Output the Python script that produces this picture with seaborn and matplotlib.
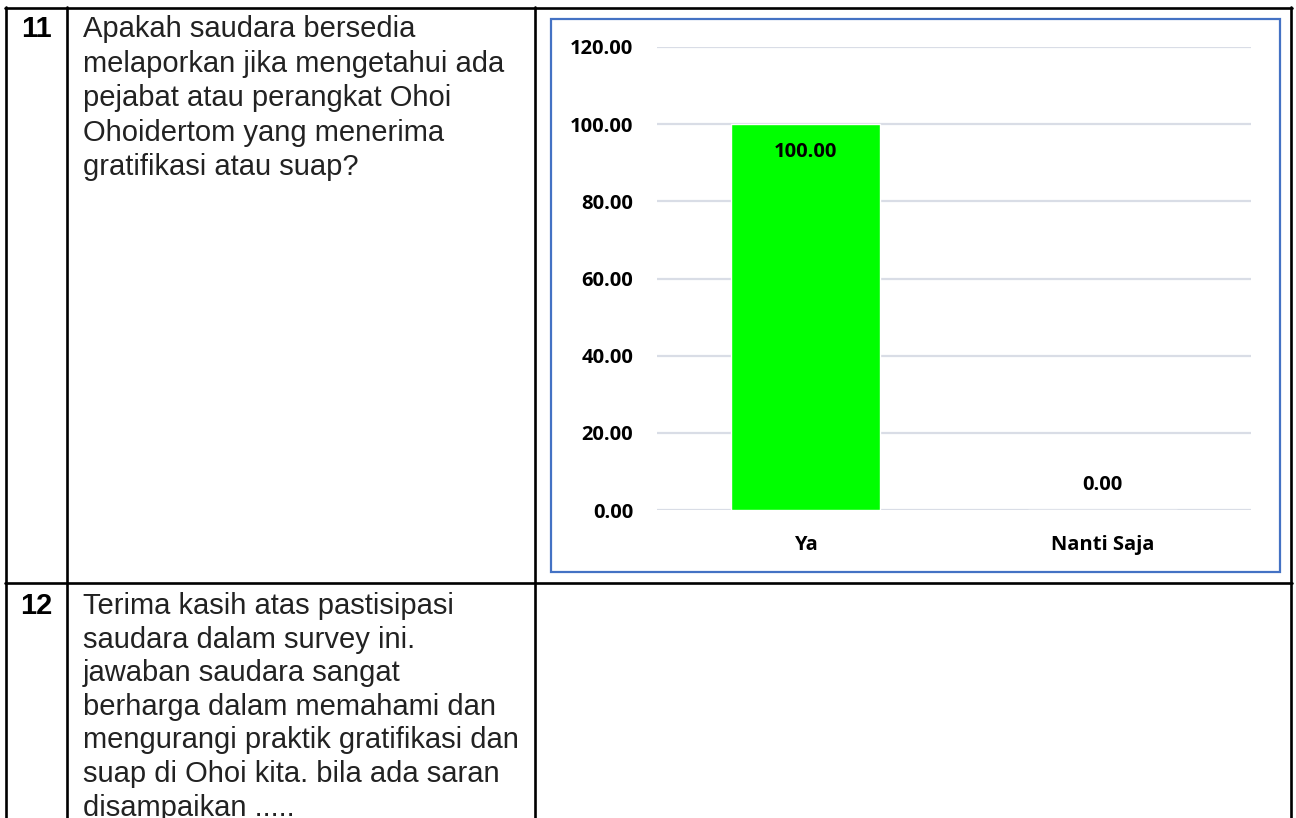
import numpy as np
import matplotlib
matplotlib.use("Agg")
import matplotlib.pyplot as plt
from matplotlib.lines import Line2D
from matplotlib.patches import Rectangle
import seaborn as sns
import pandas as pd

# data
categories = ["Ya", "Nanti Saja"]
values = [100.00, 0.00]
yticks = [0, 20, 40, 60, 80, 100, 120]

row_numbers = ["11", "12"]
question_11 = [
    "Apakah saudara bersedia",
    "melaporkan jika mengetahui ada",
    "pejabat atau perangkat Ohoi",
    "Ohoidertom yang menerima",
    "gratifikasi atau suap?",
]
question_12 = [
    "Terima kasih atas pastisipasi",
    "saudara dalam survey ini.",
    "jawaban saudara sangat",
    "berharga dalam memahami dan",
    "mengurangi praktik gratifikasi dan",
    "suap di Ohoi kita. bila ada saran",
    "disampaikan .....",
]

sns.set_style("white")

W, H = 1296, 818
fig = plt.figure(figsize=(W / 100, H / 100), dpi=100)


def fx(x):
    return x / W


def fy(y):
    return 1 - y / H


# table grid
def hline(y, x0, x1):
    fig.add_artist(Line2D([fx(x0), fx(x1)], [fy(y), fy(y)], color="black", lw=1.9,
                          transform=fig.transFigure))


def vline(x, y0, y1):
    fig.add_artist(Line2D([fx(x), fx(x)], [fy(y0), fy(y1)], color="black", lw=1.9,
                          transform=fig.transFigure))


hline(8, 5, 1292)
hline(583, 5, 1292)
for xv in [6, 67, 535, 1291]:
    vline(xv, 7, 820)

# table text
txt_color = "#222222"
body_font = ["Liberation Sans", "DejaVu Sans"]
fs = 21
fig.text(fx(36), fy(37), row_numbers[0], fontsize=fs, fontweight="bold",
         family=body_font, ha="center", va="baseline", color="black")
for i, line in enumerate(question_11):
    fig.text(fx(83), fy(37 + i * 34.6), line, fontsize=fs, family=body_font,
             ha="left", va="baseline", color=txt_color)

fig.text(fx(36), fy(614), row_numbers[1], fontsize=fs, fontweight="bold",
         family=body_font, ha="center", va="baseline", color="black")
for i, line in enumerate(question_12):
    fig.text(fx(83), fy(614 + i * 33.6), line, fontsize=fs, family=body_font,
             ha="left", va="baseline", color=txt_color)

# chart frame
fig.add_artist(Rectangle((fx(551), fy(572)), fx(1280) - fx(551), fy(19) - fy(572),
                         fill=False, edgecolor="#4472C4", lw=1.6,
                         transform=fig.transFigure))

# chart
ax = fig.add_axes([fx(657), fy(510), fx(1251) - fx(657), fy(47) - fy(510)])
df = pd.DataFrame({"kategori": categories, "nilai": values})
sns.barplot(data=df, x="kategori", y="nilai", color="#00FF00", saturation=1,
            width=0.5, ax=ax, zorder=3)

ax.set_xlim(-0.5, 1.5)
ax.set_ylim(0, 120)
ax.set_yticks(yticks)
ax.set_yticklabels([f"{t:.2f}" for t in yticks])
ax.yaxis.grid(True, color="#D9DDE6", lw=1.6, zorder=0)
ax.set_axisbelow(True)
for s in ax.spines.values():
    s.set_visible(False)
ax.tick_params(axis="both", length=0)
ax.tick_params(axis="y", pad=17)
ax.tick_params(axis="x", pad=18)
ax.set_xlabel("")
ax.set_ylabel("")

lab_font = ["Open Sans", "DejaVu Sans"]
lab_fs = 14.5
for lab in ax.get_yticklabels() + ax.get_xticklabels():
    lab.set_fontfamily(lab_font)
    lab.set_fontweight("bold")
    lab.set_fontsize(lab_fs)
    lab.set_color("black")

for i, v in enumerate(values):
    off = -20 if v > 0 else 18
    ax.annotate(f"{v:.2f}", (i, v), xytext=(0, off), textcoords="offset points",
                ha="center", va="center", fontsize=lab_fs, fontweight="bold",
                family=lab_font, color="black")

fig.savefig("out.png", dpi=100)
